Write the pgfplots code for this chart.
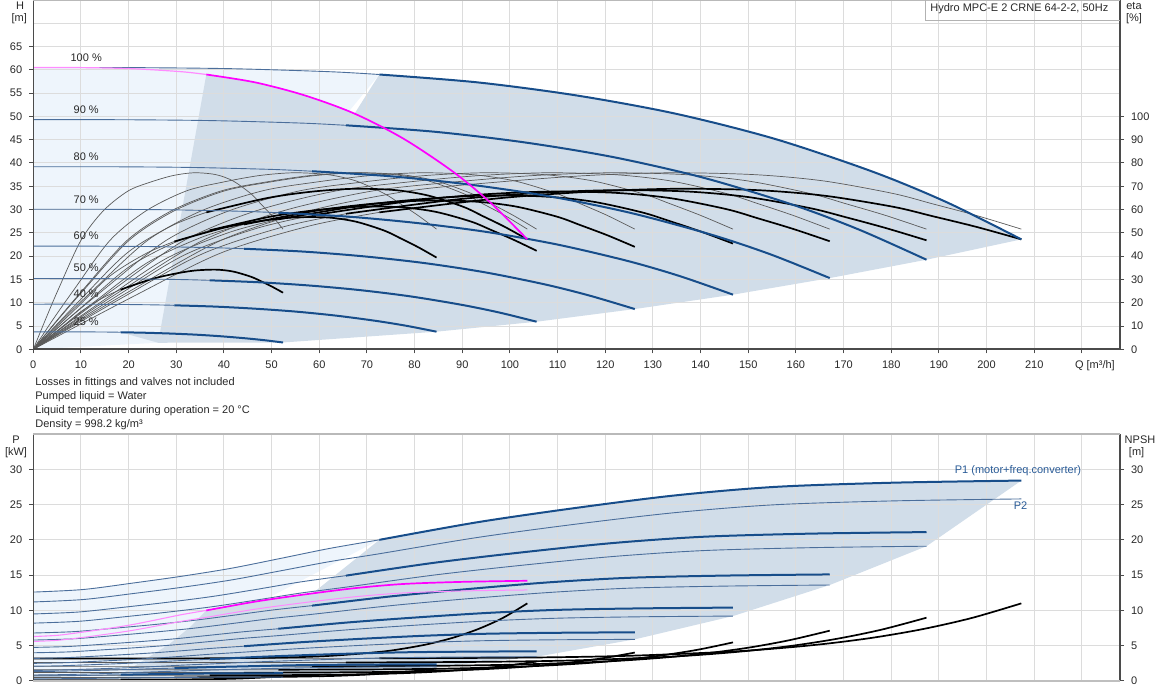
\documentclass[border=0pt]{standalone}
\usepackage{fontspec}
\setmainfont{Liberation Sans}
\usepackage{pgfplots}
\pgfplotsset{compat=1.18}
\definecolor{bdark}{RGB}{23,77,138}
\definecolor{bthin}{RGB}{75,110,155}
\definecolor{fdark}{RGB}{209,221,233}
\definecolor{flight}{RGB}{238,245,252}
\definecolor{gridc}{RGB}{220,220,220}
\definecolor{axc}{RGB}{75,75,75}
\definecolor{etathin}{RGB}{90,90,90}
\definecolor{mag}{RGB}{255,0,255}
\definecolor{magl}{RGB}{255,140,255}
\definecolor{txt}{RGB}{40,40,40}
\definecolor{ptxt}{RGB}{40,90,150}
\pgfplotsset{
  base/.style={scale only axis, width=543.35pt, xmin=0, xmax=228, anchor=south west,
    clip mode=individual,
    tick label style={font=\fontsize{5.5}{6.6}\selectfont, text=txt},
    /pgf/number format/assume math mode=true,
    tick align=outside, major tick length=2pt,
    tick style={axc, line width=0.5pt},
    axis line style={draw=none},
    xtick={0,10,...,220},
    grid style={gridc, line width=0.5pt},
  },
  nox/.style={xticklabels={,,,,,,,,,,,,,,,,,,,,,,,}, xtick style={draw=none}},
  hthin/.style={bthin, line width=0.45pt, smooth},
  hthick/.style={bdark, line width=1pt, smooth},
  pthin/.style={bthin, line width=0.45pt, smooth},
  ethin/.style={etathin, line width=0.35pt, smooth},
  ethick/.style={black, line width=0.85pt, smooth},
}
\begin{document}
\begin{tikzpicture}
\useasboundingbox (0,0) rectangle (581pt,350pt);
%================ TOP: fills
\begin{axis}[base, at={(16.65pt,175.35pt)}, height=174.65pt, ymin=0, ymax=75, hide axis]
\addplot[fill=flight, draw=none] coordinates {(0,0)(0,60.5)(20.7,60.48)(41.5,60.25)(62.2,59.6)(72.6,59.0)(26.2,1.4)} -- cycle;
\addplot[fill=fdark, draw=none] coordinates {(18.3,3.66)(26.2,1.4)(52.4,1.46)(84.6,3.78)(105.6,5.92)(126.2,8.64)(146.8,11.73)(167.1,15.29)(187.4,19.23)(207.3,23.6)(191.8,31.5)(176.2,38.1)(155.5,45.2)(134.7,50.6)(114.0,54.5)(93.3,57.3)(72.6,59.0)(67.4,50.6)(57.0,54.5)(46.6,57.3)(36.3,59.0)(26.6,3.7)} -- cycle;
\end{axis}
%================ TOP: eta axis (right), grid
\begin{axis}[base, nox, at={(16.65pt,175.35pt)}, height=174.65pt, ymin=0, ymax=150,
  xmajorgrids, ymajorgrids,
  ytick={0,10,...,100}, ytick pos=right, yticklabel pos=right,
  extra y ticks={110,120,130,140}, extra y tick labels={},
  extra y tick style={grid=major, major tick length=0pt}]
% pump efficiency (thin)
\addplot[ethin] coordinates {(0,0)(10.4,13)(20.7,25.5)(39.4,46.8)(58.0,59.5)(78.8,68)(97.4,71.8)(116.1,74.6)(133.7,75.8)(151.3,75)(165.8,72.3)(180.4,66.9)(188.6,62.5)(197.8,57.5)(207.3,51.6)};
\addplot[ethin] coordinates {(0,0)(9.4,13)(18.7,25.5)(35.6,46.8)(52.5,59.5)(71.2,68)(88.1,71.8)(104.9,74.6)(120.9,75.8)(136.8,75)(149.9,72.3)(163.0,66.9)(170.5,62.5)(178.8,57.5)(187.4,51.6)};
\addplot[ethin] coordinates {(0,0)(8.4,13)(16.7,25.5)(31.7,46.8)(46.8,59.5)(63.5,68)(78.5,71.8)(93.6,74.6)(107.8,75.8)(122.0,75)(133.7,72.3)(145.4,66.9)(152.1,62.5)(159.4,57.5)(167.1,51.6)};
\addplot[ethin] coordinates {(0,0)(7.3,13)(14.7,25.5)(27.9,46.8)(41.1,59.5)(55.8,68)(69.0,71.8)(82.2,74.6)(94.7,75.8)(107.2,75)(117.4,72.3)(127.7,66.9)(133.6,62.5)(140.0,57.5)(146.8,51.6)};
\addplot[ethin] coordinates {(0,0)(6.3,13)(12.6,25.5)(24.0,46.8)(35.3,59.5)(48.0,68)(59.3,71.8)(70.7,74.6)(81.4,75.8)(92.1,75)(101.0,72.3)(109.8,66.9)(114.8,62.5)(120.4,57.5)(126.2,51.6)};
\addplot[ethin] coordinates {(0,0)(5.3,13)(10.6,25.5)(20.1,46.8)(29.6,59.5)(40.1,68)(49.6,71.8)(59.1,74.6)(68.1,75.8)(77.1,75)(84.5,72.3)(91.9,66.9)(96.1,62.5)(100.7,57.5)(105.6,51.6)};
\addplot[ethin] coordinates {(0,0)(5.2,13)(10.4,25.5)(19.7,46.8)(29.0,59.5)(39.4,68)(48.7,71.8)(58.0,74.6)(66.9,75.8)(75.7,75)(82.9,72.3)(90.2,66.9)(94.3,62.5)(98.9,57.5)(103.65,51.6)};
\addplot[ethin] coordinates {(0,0)(4.2,13)(8.5,25.5)(16.1,46.8)(23.7,59.5)(32.1,68)(39.8,71.8)(47.4,74.6)(54.6,75.8)(61.8,75)(67.7,72.3)(73.6,66.9)(77.0,62.5)(80.7,57.5)(84.6,51.6)};
\addplot[ethin] coordinates {(0,0)(2.6,13)(5.2,25.5)(10.0,46.8)(14.7,59.5)(19.9,68)(24.6,71.8)(29.3,74.6)(33.8,75.8)(38.3,75)(41.9,72.3)(45.6,66.9)(47.7,62.5)(50.0,57.5)(52.4,51.6)};
% total efficiency: thin starts
\addplot[ethin] coordinates {(0,0)(20.7,22.4)(39.4,41.4)(58.0,53.0)(72.6,58.8)};
\addplot[ethin] coordinates {(0,0)(18.7,22.2)(35.6,41.1)(52.5,52.6)(65.6,58.2)};
\addplot[ethin] coordinates {(0,0)(16.7,21.8)(31.7,40.5)(46.8,51.9)(58.5,57.5)};
\addplot[ethin] coordinates {(0,0)(14.7,21.0)(27.9,39.0)(41.1,50.2)(51.4,55.8)};
\addplot[ethin] coordinates {(0,0)(12.6,20.0)(24.0,37.3)(35.3,48.1)(44.2,53.6)};
\addplot[ethin] coordinates {(0,0)(10.6,18.9)(20.1,35.4)(29.6,45.8)(37.0,51.1)};
\addplot[ethin] coordinates {(0,0)(10.4,22.4)(19.7,41.4)(29.0,53.0)(36.3,58.8)};
\addplot[ethin] coordinates {(0,0)(8.5,16.6)(16.1,31.5)(23.7,41.2)(29.6,46.3)};
\addplot[ethin] coordinates {(0,0)(5.2,8.1)(10.0,16.2)(14.7,22.2)(18.3,25.6)};
% total efficiency: thick
\addplot[ethick] coordinates {(72.6,58.8)(97.4,64.8)(116.1,67.6)(133.7,68.9)(151.3,68.4)(165.8,66.0)(180.4,61.2)(188.6,57.2)(197.8,52.6)(207.3,47.2)};
\addplot[ethick] coordinates {(65.6,58.2)(88.1,64.2)(104.9,67.0)(120.9,68.3)(136.8,67.8)(149.9,65.4)(163.0,60.6)(170.5,56.7)(178.8,52.1)(187.4,46.8)};
\addplot[ethick] coordinates {(58.5,57.5)(78.5,63.5)(93.6,66.4)(107.8,67.7)(122.0,67.2)(133.7,64.9)(145.4,60.2)(152.1,56.2)(159.4,51.7)(167.1,46.4)};
\addplot[ethick] coordinates {(51.4,55.8)(69.0,61.8)(82.2,64.6)(94.7,66.0)(107.2,65.6)(117.4,63.4)(127.7,58.8)(133.6,55.0)(140.0,50.6)(146.8,45.4)};
\addplot[ethick] coordinates {(44.2,53.6)(59.3,59.5)(70.7,62.4)(81.4,63.8)(92.1,63.5)(101.0,61.4)(109.8,57.0)(114.8,53.3)(120.4,49.0)(126.2,44.0)};
\addplot[ethick] coordinates {(37.0,51.1)(49.6,56.9)(59.1,59.7)(68.1,61.2)(77.1,61.0)(84.5,59.0)(91.9,54.8)(96.1,51.2)(100.7,47.1)(105.6,42.3)};
\addplot[ethick] coordinates {(36.3,58.8)(48.7,64.8)(58.0,67.6)(66.9,68.9)(75.7,68.4)(82.9,66.0)(90.2,61.2)(94.3,57.2)(98.9,52.6)(103.65,47.2)};
\addplot[ethick] coordinates {(29.6,46.3)(39.8,52.1)(47.4,55.0)(54.6,56.6)(61.8,56.6)(67.7,54.8)(73.6,51.0)(77.0,47.7)(80.7,43.9)(84.6,39.4)};
\addplot[ethick] coordinates {(18.3,25.6)(24.6,30.0)(29.3,32.3)(33.8,33.8)(38.3,34.2)(41.9,33.4)(45.6,31.2)(47.7,29.3)(50.0,27.0)(52.4,24.3)};
\end{axis}
%================ TOP: H axis (left)
\begin{axis}[base, at={(16.65pt,175.35pt)}, height=174.65pt, ymin=0, ymax=75,
  ytick={0,5,...,65}, ytick pos=left, xtick pos=bottom,
  xticklabels={0,10,20,30,40,50,60,70,80,90,100,110,120,130,140,150,160,170,180,190,200,210,{\hspace*{13pt}Q [m³/h]}}]
\addplot[hthin] coordinates {(0,60.5)(20.7,60.48)(41.5,60.25)(62.2,59.6)(72.6,59.0)};
\addplot[hthick] coordinates {(72.6,59.0)(93.3,57.3)(114.0,54.5)(134.7,50.6)(155.5,45.2)(176.2,38.1)(191.8,31.5)(207.3,23.6)};
\addplot[hthin] coordinates {(0,49.3)(18.7,49.29)(37.5,49.1)(56.2,48.57)(65.6,48.09)};
\addplot[hthick] coordinates {(65.6,48.09)(84.3,46.7)(103.1,44.42)(121.8,41.24)(140.6,36.84)(159.3,31.05)(173.3,25.67)(187.4,19.23)};
\addplot[hthin] coordinates {(0,39.2)(16.7,39.19)(33.4,39.04)(50.1,38.62)(58.5,38.23)};
\addplot[hthick] coordinates {(58.5,38.23)(75.2,37.13)(91.9,35.32)(108.6,32.79)(125.3,29.29)(142.0,24.69)(154.6,20.41)(167.1,15.29)};
\addplot[hthin] coordinates {(0,30.07)(14.7,30.06)(29.4,29.94)(44.0,29.62)(51.4,29.32)};
\addplot[hthick] coordinates {(51.4,29.32)(66.1,28.48)(80.7,27.09)(95.4,25.15)(110.1,22.46)(124.8,18.94)(135.8,15.66)(146.8,11.73)};
\addplot[hthin] coordinates {(0,22.14)(12.6,22.14)(25.2,22.05)(37.9,21.81)(44.2,21.59)};
\addplot[hthick] coordinates {(44.2,21.59)(56.8,20.97)(69.4,19.95)(82.0,18.52)(94.7,16.54)(107.3,13.94)(116.7,11.53)(126.2,8.64)};
\addplot[hthin] coordinates {(0,15.19)(10.6,15.18)(21.1,15.12)(31.7,14.96)(37.0,14.81)};
\addplot[hthick] coordinates {(37.0,14.81)(47.5,14.38)(58.1,13.68)(68.6,12.70)(79.2,11.35)(89.8,9.56)(97.7,7.91)(105.6,5.92)};
\addplot[hthin] coordinates {(0,9.68)(8.5,9.68)(16.9,9.64)(25.4,9.54)(29.6,9.44)};
\addplot[hthick] coordinates {(29.6,9.44)(38.1,9.17)(46.5,8.72)(55.0,8.10)(63.5,7.23)(71.9,6.10)(78.3,5.04)(84.6,3.78)};
\addplot[hthin] coordinates {(0,3.75)(5.2,3.75)(10.5,3.74)(15.7,3.70)(18.3,3.66)};
\addplot[hthick] coordinates {(18.3,3.66)(23.6,3.55)(28.8,3.38)(34.1,3.14)(39.3,2.80)(44.5,2.36)(48.5,1.95)(52.4,1.46)};
\addplot[magl, line width=0.6pt, smooth] coordinates {(0,60.5)(10.4,60.48)(20.7,60.25)(31.1,59.6)(36.3,59.0)};
\addplot[mag, line width=0.85pt, smooth] coordinates {(36.3,59.0)(46.6,57.3)(57.0,54.5)(67.4,50.6)(77.7,45.2)(88.1,38.1)(95.9,31.5)(103.65,23.6)};
\begin{scope}[every node/.style={font=\fontsize{5.5}{6.6}\selectfont, text=txt}]
\node at (axis cs:11.1,62.6) {100 \%};
\node at (axis cs:11.1,51.5) {90 \%};
\node at (axis cs:11.1,41.3) {80 \%};
\node at (axis cs:11.1,32.1) {70 \%};
\node at (axis cs:11.1,24.3) {60 \%};
\node at (axis cs:11.1,17.6) {50 \%};
\node at (axis cs:11.1,12.0) {40 \%};
\node at (axis cs:11.1,5.9) {25 \%};
\end{scope}
\draw[axc, line width=0.8pt] (rel axis cs:0,0) -- (rel axis cs:0,1);
\draw[axc, line width=0.8pt] (rel axis cs:0,0) -- (rel axis cs:1,0);
\draw[axc, line width=0.8pt] (rel axis cs:1,0) -- (rel axis cs:1,1);
\draw[gray!55, line width=0.6pt] (rel axis cs:0,1) -- (rel axis cs:1,1);
\end{axis}
%================ BOTTOM: fills
\begin{axis}[base, at={(16.65pt,9.5pt)}, height=123.5pt, ymin=0, ymax=35, hide axis]
\addplot[fill=flight, draw=none] coordinates {(0,0)(0,12.6)(10.4,12.96)(20.7,13.86)(31.1,14.84)(41.5,15.97)(51.8,17.36)(62.2,18.79)(72.6,20.0)(17.1,0.4)} -- cycle;
\addplot[fill=fdark, draw=none] coordinates {(17.1,0.4)(22.4,2.6)(28.7,5.3)(33.0,7.7)(36.3,10.0)(46.6,11.25)(57.0,12.27)(58.6,12.42)(72.6,20.0)(93.3,22.51)(114.0,24.54)(134.7,26.3)(155.5,27.5)(180.4,28.1)(207.3,28.4)(187.4,19.1)(167.1,13.6)(146.8,9.2)(126.2,5.9)(105.6,3.44)(84.6,2.0)(52.4,0.55)} -- cycle;
\end{axis}
%================ BOTTOM: NPSH axis (right), grid
\begin{axis}[base, nox, at={(16.65pt,9.5pt)}, height=123.5pt, ymin=0, ymax=35,
  xmajorgrids, ymajorgrids,
  ytick={0,5,...,30}, ytick pos=right, yticklabel pos=right]
\addplot[ethin] coordinates {(0,3.2)(41.5,3.2)(72.6,3.21)};
\addplot[ethick] coordinates {(72.6,3.21)(103.7,3.32)(124.4,3.56)(145.1,4.12)(155.5,4.59)(165.8,5.24)(176.2,6.14)(186.6,7.35)(196.9,8.93)(207.3,11.0)};
\addplot[ethin] coordinates {(0,2.61)(37.5,2.61)(65.6,2.62)};
\addplot[ethick] coordinates {(65.6,2.62)(93.7,2.71)(112.4,2.9)(131.2,3.36)(140.6,3.74)(149.9,4.27)(159.3,5.0)(168.7,5.99)(178.0,7.28)(187.4,8.97)};
\addplot[ethin] coordinates {(0,2.07)(33.4,2.07)(58.5,2.08)};
\addplot[ethick] coordinates {(58.5,2.08)(83.6,2.15)(100.3,2.31)(117.0,2.67)(125.3,2.97)(133.7,3.4)(142.0,3.98)(150.4,4.76)(158.7,5.79)(167.1,7.13)};
\addplot[ethin] coordinates {(0,1.59)(29.4,1.59)(51.4,1.6)};
\addplot[ethick] coordinates {(51.4,1.6)(73.4,1.65)(88.1,1.77)(102.8,2.05)(110.1,2.28)(117.4,2.6)(124.8,3.05)(132.1,3.65)(139.5,4.44)(146.8,5.47)};
\addplot[ethin] coordinates {(0,1.17)(25.2,1.17)(44.2,1.17)};
\addplot[ethick] coordinates {(44.2,1.17)(63.1,1.22)(75.7,1.3)(88.3,1.51)(94.7,1.68)(101.0,1.92)(107.3,2.25)(113.6,2.69)(119.9,3.27)(126.2,4.03)};
\addplot[ethin] coordinates {(0,0.8)(21.1,0.8)(37.0,0.81)};
\addplot[ethick] coordinates {(37.0,0.81)(52.8,0.83)(63.4,0.89)(73.9,1.03)(79.2,1.15)(84.5,1.32)(89.8,1.54)(95.0,1.84)(100.3,2.24)(105.6,2.76)};
\addplot[ethin] coordinates {(0,0.51)(16.9,0.51)(29.6,0.51)};
\addplot[ethick] coordinates {(29.6,0.51)(42.3,0.53)(50.8,0.57)(59.2,0.66)(63.5,0.73)(67.7,0.84)(71.9,0.98)(76.1,1.18)(80.4,1.43)(84.6,1.76)};
\addplot[ethin] coordinates {(0,0.2)(10.5,0.2)(18.3,0.2)};
\addplot[ethick] coordinates {(18.3,0.2)(26.2,0.21)(31.4,0.22)(36.7,0.26)(39.3,0.28)(41.9,0.32)(44.5,0.38)(47.2,0.46)(49.8,0.55)(52.4,0.68)};
\addplot[ethick] coordinates {(0,3.2)(20.7,3.2)(36.3,3.21)(51.8,3.32)(62.2,3.56)(72.6,4.12)(77.7,4.59)(82.9,5.24)(88.1,6.14)(93.3,7.35)(98.5,8.93)(103.65,11.0)};
\end{axis}
%================ BOTTOM: P axis (left)
\begin{axis}[base, nox, at={(16.65pt,9.5pt)}, height=123.5pt, ymin=0, ymax=35,
  ytick={0,5,...,30}, ytick pos=left]
% P2 (thin)
\addplot[pthin] coordinates {(0,11.2)(10.4,11.54)(20.7,12.37)(31.1,13.27)(41.5,14.31)(51.8,15.6)(62.2,16.92)(72.6,18.03)(93.3,20.35)(114.0,22.24)(134.7,23.86)(155.5,24.97)(180.4,25.52)(207.3,25.8)};
\addplot[pthin] coordinates {(0,8.2)(9.4,8.45)(18.7,9.07)(28.1,9.75)(37.5,10.52)(46.9,11.48)(56.2,12.47)(65.6,13.3)(84.3,15.03)(103.1,16.44)(121.8,17.65)(140.6,18.48)(163.0,18.89)(187.4,19.1)};
\addplot[pthin] coordinates {(0,5.8)(8.4,5.98)(16.7,6.42)(25.1,6.91)(33.4,7.46)(41.8,8.15)(50.1,8.86)(58.5,9.45)(75.2,10.69)(91.9,11.7)(108.6,12.56)(125.3,13.16)(145.4,13.45)(167.1,13.6)};
\addplot[pthin] coordinates {(0,4.0)(7.3,4.12)(14.7,4.42)(22.0,4.74)(29.4,5.11)(36.7,5.57)(44.0,6.04)(51.4,6.43)(66.1,7.26)(80.7,7.93)(95.4,8.51)(110.1,8.9)(127.7,9.1)(146.8,9.2)};
\addplot[pthin] coordinates {(0,2.5)(6.3,2.58)(12.6,2.77)(18.9,2.98)(25.2,3.22)(31.6,3.52)(37.9,3.83)(44.2,4.09)(56.8,4.63)(69.4,5.07)(82.0,5.45)(94.7,5.71)(109.8,5.84)(126.2,5.9)};
\addplot[pthin] coordinates {(0,1.5)(5.3,1.55)(10.6,1.66)(15.8,1.78)(21.1,1.91)(26.4,2.08)(31.7,2.26)(37.0,2.41)(47.5,2.72)(58.1,2.97)(68.6,3.18)(79.2,3.33)(91.9,3.4)(105.6,3.44)};
\addplot[pthin] coordinates {(0,0.85)(4.2,0.88)(8.5,0.94)(12.7,1.01)(16.9,1.1)(21.2,1.2)(25.4,1.3)(29.6,1.39)(38.1,1.57)(46.5,1.72)(55.0,1.85)(63.5,1.93)(73.6,1.98)(84.6,2.0)};
\addplot[pthin] coordinates {(0,0.3)(2.6,0.31)(5.2,0.32)(7.9,0.34)(10.5,0.35)(13.1,0.38)(15.7,0.4)(18.3,0.42)(23.6,0.46)(28.8,0.49)(34.1,0.52)(39.3,0.54)(45.6,0.55)(52.4,0.55)};
% P1 thin parts
\addplot[pthin] coordinates {(0,12.6)(10.4,12.96)(20.7,13.86)(31.1,14.84)(41.5,15.97)(51.8,17.36)(62.2,18.79)(72.6,20.0)};
\addplot[pthin] coordinates {(0,9.5)(9.4,9.77)(18.7,10.43)(28.1,11.15)(37.5,11.97)(46.9,12.99)(56.2,14.05)(65.6,14.93)};
\addplot[pthin] coordinates {(0,6.8)(8.4,6.99)(16.7,7.46)(25.1,7.98)(33.4,8.57)(41.8,9.3)(50.1,10.05)(58.5,10.68)};
\addplot[pthin] coordinates {(0,4.76)(7.3,4.89)(14.7,5.21)(22.0,5.56)(29.4,5.96)(36.7,6.46)(44.0,6.97)(51.4,7.4)};
\addplot[pthin] coordinates {(0,3.2)(6.3,3.29)(12.6,3.5)(18.9,3.73)(25.2,3.99)(31.6,4.31)(37.9,4.65)(44.2,4.93)};
\addplot[pthin] coordinates {(0,2.1)(5.3,2.15)(10.6,2.27)(15.8,2.4)(21.1,2.55)(26.4,2.73)(31.7,2.92)(37.0,3.08)};
\addplot[pthin] coordinates {(0,1.35)(4.2,1.37)(8.5,1.43)(12.7,1.49)(16.9,1.57)(21.2,1.65)(25.4,1.75)(29.6,1.82)};
\addplot[pthin] coordinates {(0,0.7)(2.6,0.71)(5.2,0.73)(7.9,0.76)(10.5,0.79)(13.1,0.82)(15.7,0.86)(18.3,0.89)};
% P1 thick parts
\addplot[hthick] coordinates {(72.6,20.0)(93.3,22.51)(114.0,24.54)(134.7,26.3)(155.5,27.5)(180.4,28.1)(207.3,28.4)};
\addplot[hthick] coordinates {(65.6,14.93)(84.3,16.77)(103.1,18.27)(121.8,19.56)(140.6,20.44)(163.0,20.88)(187.4,21.1)};
\addplot[hthick] coordinates {(58.5,10.68)(75.2,12.0)(91.9,13.07)(108.6,14.0)(125.3,14.63)(145.4,14.94)(167.1,15.1)};
\addplot[hthick] coordinates {(51.4,7.4)(66.1,8.3)(80.7,9.02)(95.4,9.65)(110.1,10.08)(127.7,10.29)(146.8,10.4)};
\addplot[hthick] coordinates {(44.2,4.93)(56.8,5.52)(69.4,6.0)(82.0,6.41)(94.7,6.69)(109.8,6.83)(126.2,6.9)};
\addplot[hthick] coordinates {(37.0,3.08)(47.5,3.42)(58.1,3.69)(68.6,3.92)(79.2,4.08)(91.9,4.16)(105.6,4.2)};
\addplot[hthick] coordinates {(29.6,1.82)(38.1,1.98)(46.5,2.11)(55.0,2.23)(63.5,2.3)(73.6,2.34)(84.6,2.36)};
\addplot[hthick] coordinates {(18.3,0.89)(23.6,0.95)(28.8,1.0)(34.1,1.05)(39.3,1.08)(45.6,1.09)(52.4,1.1)};
% one pump (magenta)
\addplot[magl, line width=0.5pt, smooth] coordinates {(0,5.6)(5.2,5.77)(10.4,6.18)(15.5,6.64)(20.7,7.16)(25.9,7.8)(31.1,8.46)(36.3,9.02)(46.6,10.18)(57.0,11.12)(67.4,11.93)(77.7,12.48)(90.2,12.76)(103.65,12.9)};
\addplot[magl, line width=0.55pt, smooth] coordinates {(0,6.3)(5.2,6.48)(10.4,6.93)(15.5,7.42)(20.7,7.98)(25.9,8.68)(31.1,9.4)(36.3,10.0)};
\addplot[mag, line width=0.85pt, smooth] coordinates {(36.3,10.0)(46.6,11.25)(57.0,12.27)(67.4,13.15)(77.7,13.75)(90.2,14.05)(103.65,14.2)};
\draw[axc, line width=0.8pt] (rel axis cs:0,0) -- (rel axis cs:0,1);
\draw[axc, line width=0.8pt] (rel axis cs:1,0) -- (rel axis cs:1,1);
\draw[gray!50, line width=0.8pt] (rel axis cs:0,0) -- (rel axis cs:1,0);
\draw[gray!55, line width=0.6pt] (rel axis cs:0,1) -- (rel axis cs:1,1);
\end{axis}
%================ texts
\begin{scope}[every node/.style={font=\fontsize{5.5}{6.6}\selectfont, text=txt, inner sep=0pt}]
\node at (10pt,347pt) {H};
\node at (9.6pt,340.5pt) {[m]};
\node at (567pt,347pt) {eta};
\node at (567pt,340.5pt) {[\%]};
\node at (8pt,130.35pt) {P};
\node at (8pt,123.65pt) {[kW]};
\node at (570pt,130.35pt) {NPSH};
\node at (568.3pt,123.65pt) {[m]};
\node[anchor=north west, align=left, font=\fontsize{5.5}{6.85}\selectfont] at (17.5pt,161.2pt) {Losses in fittings and valves not included\\Pumped liquid = Water\\Liquid temperature during operation = 20 °C\\Density = 998.2 kg/m³};
\node[text=ptxt] at (509pt,114.65pt) {P1 (motor+freq.converter)};
\node[text=ptxt] at (510.25pt,97.35pt) {P2};
\node[anchor=west] at (465pt,345.8pt) {Hydro MPC-E 2 CRNE 64-2-2, 50Hz};
\end{scope}
\draw[gray!60, line width=0.5pt] (462.85pt,350pt) -- (462.85pt,339.5pt) -- (560pt,339.5pt);
\end{tikzpicture}
\end{document}
